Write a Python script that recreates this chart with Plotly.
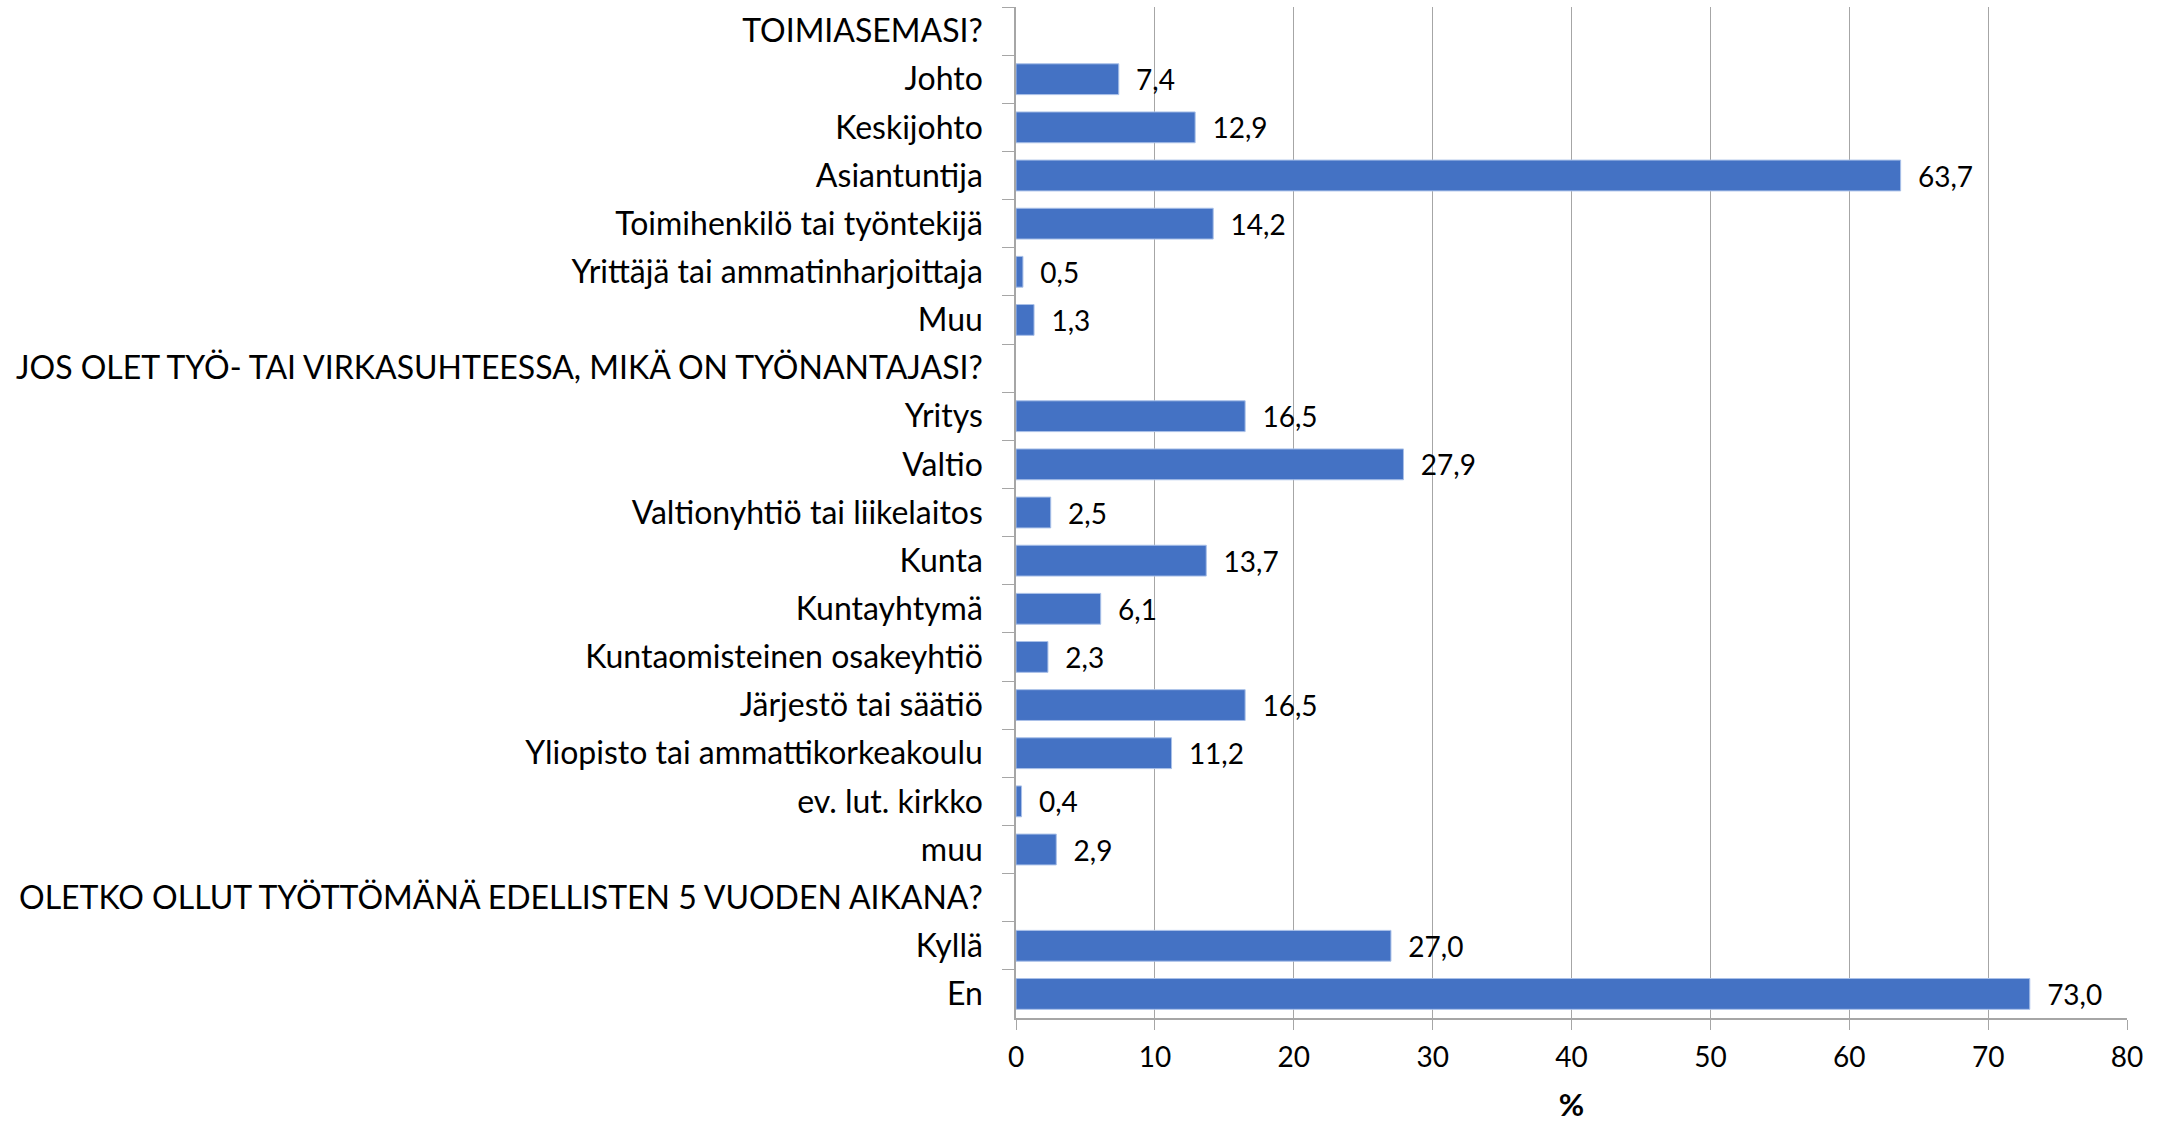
import plotly.graph_objects as go

categories = [
    "TOIMIASEMASI?", "Johto", "Keskijohto", "Asiantuntija",
    "Toimihenkilö tai työntekijä", "Yrittäjä tai ammatinharjoittaja", "Muu",
    "JOS OLET TYÖ- TAI VIRKASUHTEESSA, MIKÄ ON TYÖNANTAJASI?",
    "Yritys", "Valtio", "Valtionyhtiö tai liikelaitos", "Kunta", "Kuntayhtymä",
    "Kuntaomisteinen osakeyhtiö", "Järjestö tai säätiö",
    "Yliopisto tai ammattikorkeakoulu", "ev. lut. kirkko", "muu",
    "OLETKO OLLUT TYÖTTÖMÄNÄ EDELLISTEN 5 VUODEN AIKANA?",
    "Kyllä", "En",
]
values = [
    None, 7.4, 12.9, 63.7, 14.2, 0.5, 1.3,
    None, 16.5, 27.9, 2.5, 13.7, 6.1, 2.3, 16.5, 11.2, 0.4, 2.9,
    None, 27.0, 73.0,
]
x_ticks = [0, 10, 20, 30, 40, 50, 60, 70, 80]

FONT = "Lato"

fig = go.Figure(go.Bar(
    y=categories, x=values, orientation="h",
    marker=dict(color="#4472C4", line=dict(color="#A9C0E8", width=1)),
    texttemplate="\u00a0\u00a0%{x:.1f}", textposition="outside",
    textfont=dict(family=FONT, size=28, color="#000000"),
    constraintext="none",
    cliponaxis=False,
))

fig.update_layout(
    width=2172, height=1124,
    margin=dict(l=1016, r=45, t=7, b=104),
    paper_bgcolor="white", plot_bgcolor="white",
    bargap=0.36, separators=", ",
    showlegend=False,
    font=dict(family=FONT, size=32, color="#000000"),
    xaxis=dict(
        range=[0, 80], tickvals=x_ticks,
        showgrid=True, gridcolor="#A6A6A6", gridwidth=1,
        showline=True, linecolor="#A6A6A6", linewidth=1.5,
        ticks="outside", ticklen=10, tickcolor="#A6A6A6",
        tickfont=dict(family=FONT, size=28),
        ticklabelstandoff=4,
        zeroline=False,
        title=dict(text="<b>%</b>", font=dict(family=FONT, size=31), standoff=22),
    ),
    yaxis=dict(
        autorange="reversed", type="category",
        showline=True, linecolor="#A6A6A6", linewidth=1.5,
        ticks="outside", ticklen=12, tickcolor="#A6A6A6", tickson="boundaries",
        tickfont=dict(family=FONT, size=32),
        ticklabelstandoff=25,
        showgrid=False,
    ),
)

fig.write_html("out.html", config={"displayModeBar": False},
               post_script="document.body.style.margin='0';")
